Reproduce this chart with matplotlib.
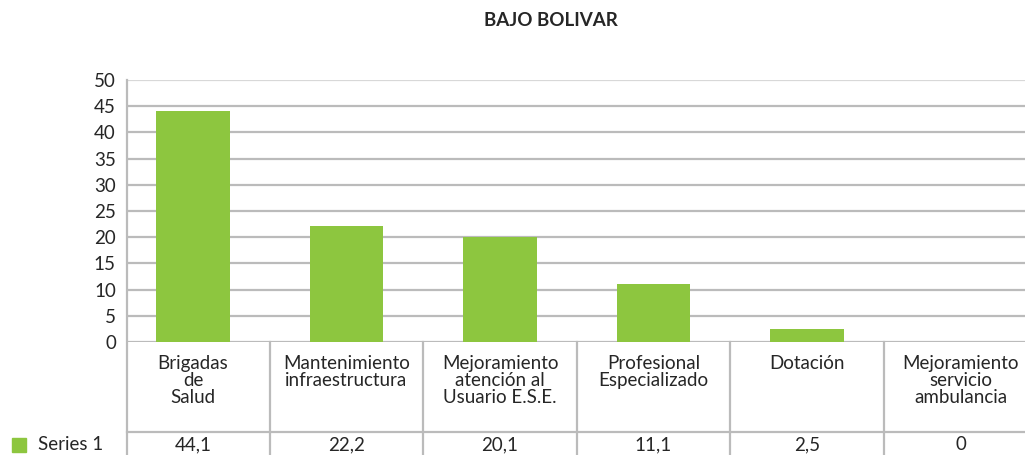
import matplotlib
matplotlib.use("Agg")
import matplotlib.pyplot as plt
import matplotlib.transforms as mtransforms
from matplotlib.patches import Rectangle

# data
title = "BAJO BOLIVAR"
categories = ["Brigadas\nde\nSalud", "Mantenimiento\ninfraestructura",
              "Mejoramiento\natención al\nUsuario E.S.E.", "Profesional\nEspecializado",
              "Dotación", "Mejoramiento\nservicio\nambulancia"]
values = [44.1, 22.2, 20.1, 11.1, 2.5, 0]
series_name = "Series 1"
yticks = list(range(0, 55, 5))

green = "#8DC63F"
grid_c = "#BBBBBB"
txt_c = "#262626"
fs = 13.5
plt.rcParams['font.family'] = ['Lato', 'DejaVu Sans']

W, H = 1025, 455
fig = plt.figure(figsize=(W / 100, H / 100), dpi=100)
ax = fig.add_axes([127 / W, (H - 342) / H, (W - 127) / W, 262 / H])

xl, xr = -0.43, 5.42
x = list(range(len(values)))
ax.bar(x, values, width=0.48, color=green, zorder=3)
ax.set_xlim(xl, xr)
ax.set_ylim(0, 50)
ax.set_yticks(yticks)
ax.set_xticks([])
ax.tick_params(axis='y', length=0, pad=8, labelsize=fs, labelcolor=txt_c)
for y in yticks:
    ax.axhline(y, color=grid_c if y < 50 else "#D8D8D8", lw=1.6, zorder=1)
for s in ax.spines.values():
    s.set_visible(False)

# data table under the axis
trans = mtransforms.blended_transform_factory(ax.transData, ax.transAxes)
row1 = -(432 - 342) / 262
bottom = -0.5
ax.plot([xl, xl], [1, bottom], transform=trans, color=grid_c, lw=1.6, clip_on=False)
for i in range(len(values) - 1):
    ax.plot([i + 0.5, i + 0.5], [0, bottom], transform=trans, color=grid_c, lw=1.6, clip_on=False)
ax.plot([xl, xr], [row1, row1], transform=trans, color=grid_c, lw=1.6, clip_on=False)

for i, (c, v) in enumerate(zip(categories, values)):
    ax.text(i, -13 / 262, c, transform=trans, ha='center', va='top', fontsize=fs,
            color=txt_c, linespacing=1.0, multialignment='center')
    lab = str(int(v)) if v == int(v) else f"{v:.1f}".replace('.', ',')
    ax.text(i, -(445 - 342) / 262, lab, transform=trans, ha='center', va='center',
            fontsize=fs, color=txt_c)

# legend key
fig.patches.append(Rectangle((12 / W, (H - 452) / H), 14 / W, 14 / H,
                             transform=fig.transFigure, color=green))
fig.text(38 / W, (H - 445) / H, series_name, ha='left', va='center', fontsize=fs, color=txt_c)

fig.text(551 / W, (H - 20) / H, title, ha='center', va='center', fontsize=13.5,
         fontweight='bold', color=txt_c)

fig.savefig("out.png", dpi=100)
